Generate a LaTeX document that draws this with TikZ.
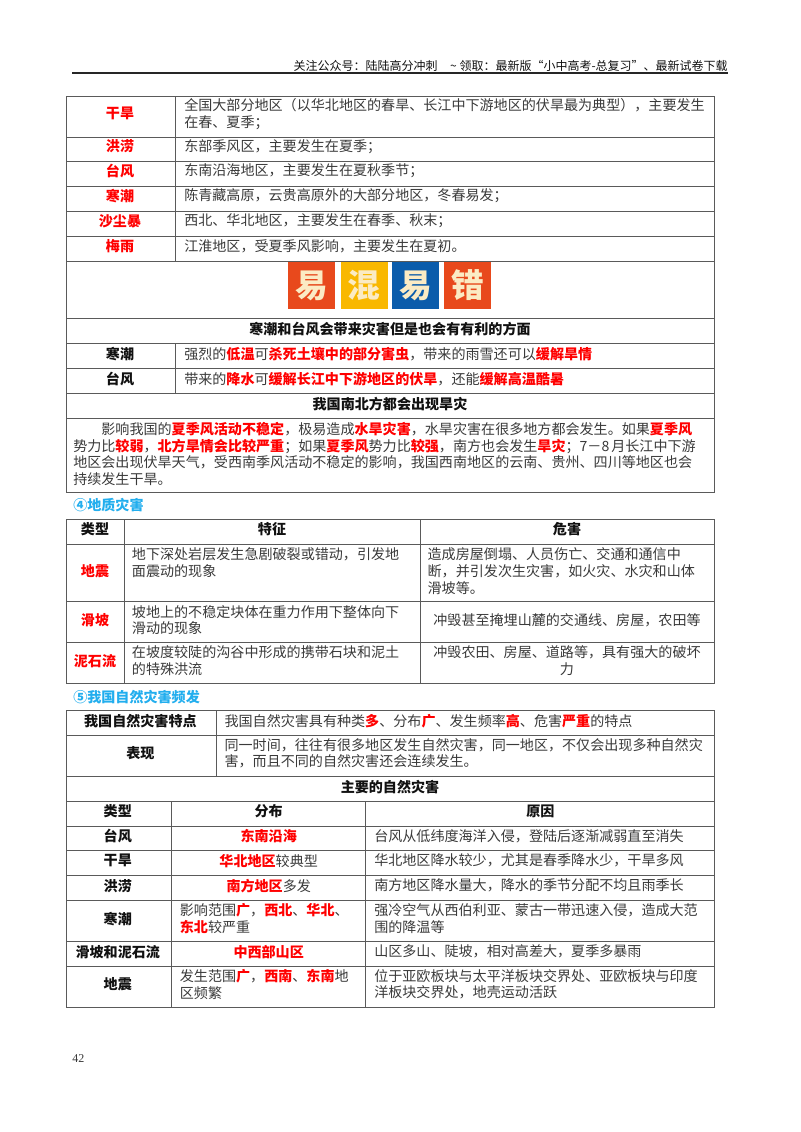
\documentclass[tikz,border=0pt]{standalone}
\usepackage{fontspec}
\setmainfont{Noto Sans CJK SC}
\newfontfamily\latinserif{Liberation Serif}
\definecolor{bodyc}{HTML}{3A3A3A}
\definecolor{linec}{HTML}{5A5A5A}
\definecolor{headc}{HTML}{111111}
\definecolor{redc}{HTML}{FF0000}
\definecolor{secc}{HTML}{22AEEE}
\definecolor{orangec}{HTML}{E8491C}
\definecolor{yellowc}{HTML}{F9B800}
\definecolor{bluec}{HTML}{0B5CAB}
\definecolor{creamc}{HTML}{FBEBC4}
\newcommand{\redb}[1]{\textcolor{redc}{\bfseries #1}}
\tikzset{
  x=0.75pt,y=-0.75pt,
  grid/.style={draw=linec,line width=0.7pt},
  txt/.style={inner sep=0pt,anchor=west,align=left,text=bodyc,font=\fontsize{10.55pt}{12.5pt}\selectfont},
  ctr/.style={txt,anchor=center,align=center},
  hd/.style={ctr,text=headc,font=\fontsize{10.55pt}{12.5pt}\selectfont\bfseries},
  rd/.style={ctr,text=redc,font=\fontsize{10.55pt}{12.5pt}\selectfont\bfseries},
  sec/.style={txt,text=secc,font=\fontsize{10.55pt}{12.5pt}\selectfont\bfseries},
  tile/.style={inner sep=0pt,anchor=center,text=creamc,minimum width=35.25pt,minimum height=35.7pt,font=\fontsize{24.5pt}{26pt}\selectfont\bfseries}
}
\begin{document}
\begin{tikzpicture}
\useasboundingbox (0,0) rectangle (800,1132);
\fill[white] (0,0) rectangle (800,1132);
% header
\node[txt,anchor=east,text=headc,font=\fontsize{9pt}{11pt}\selectfont] (hdr) at (728,65.5) {关注公众号：陆陆高分冲刺\hspace{9.5pt}\textasciitilde\hspace{2pt}领取：最新版“小中高考-总复习”、最新试卷下载};
\draw[black!85,line width=1.5pt] (72,72.7) -- (728,72.7);
% table 1
\draw[grid] (66,96) rectangle (714,492.7);
\foreach \y in {137,161.3,186,211.3,236,261,318.5,343.7,368.5,393.3,418.3} \draw[grid] (66,\y) -- (714,\y);
\draw[grid] (175,96) -- (175,261);
\draw[grid] (175,343.7) -- (175,393.3);
\node[rd] (a1) at (120,113) {干旱};
\node[txt] (a1t) at (184,114) {全国大部分地区（以华北地区的春旱、长江中下游地区的伏旱最为典型），主要发生\\在春、夏季；};
\node[rd] (a2) at (120,146.5) {洪涝};
\node[txt] (a2t) at (184,146.5) {东部季风区，主要发生在夏季；};
\node[rd] (a3) at (120,171) {台风};
\node[txt] (a3t) at (184,171) {东南沿海地区，主要发生在夏秋季节；};
\node[rd] (a4) at (120,196) {寒潮};
\node[txt] (a4t) at (184,196) {陈青藏高原，云贵高原外的大部分地区，冬春易发；};
\node[rd] (a5) at (120,221) {沙尘暴};
\node[txt] (a5t) at (184,221) {西北、华北地区，主要发生在春季、秋末；};
\node[rd] (a6) at (120,246) {梅雨};
\node[txt] (a6t) at (184,246) {江淮地区，受夏季风影响，主要发生在夏初。};
% tiles
\node[tile,fill=orangec] (b1) at (311.8,285.5) {易};
\node[tile,fill=yellowc] (b2) at (364.2,285.5) {混};
\node[tile,fill=bluec] (b3) at (415.8,285.5) {易};
\node[tile,fill=orangec] (b4) at (467.7,285.5) {错};
\node[hd] (c0) at (390,329) {寒潮和台风会带来灾害但是也会有有利的方面};
\node[hd] (c1) at (120,354) {寒潮};
\node[txt] (c1t) at (184,354) {强烈的\redb{低温}可\redb{杀死土壤中的部分害虫}，带来的雨雪还可以\redb{缓解旱情}};
\node[hd] (c2) at (120,379) {台风};
\node[txt] (c2t) at (184,379) {带来的\redb{降水}可\redb{缓解长江中下游地区的伏旱}，还能\redb{缓解高温酷暑}};
\node[hd] (c3) at (390,404) {我国南北方都会出现旱灾};
\node[txt] (c4) at (73,454) {\hspace{21.1pt}影响我国的\redb{夏季风活动不稳定}，极易造成\redb{水旱灾害}，水旱灾害在很多地方都会发生。如果\redb{夏季风}\\势力比\redb{较弱}，\redb{北方旱情会比较严重}；如果\redb{夏季风}势力比\redb{较强}，南方也会发生\redb{旱灾}；7－8\hspace{1.5pt}月长江中下游\\地区会出现伏旱天气，受西南季风活动不稳定的影响，我国西南地区的云南、贵州、四川等地区也会\\持续发生干旱。};
% section 4
\node[sec] (s4) at (73,505.5) {④地质灾害};
\draw[grid] (66,519.3) rectangle (714,683.7);
\foreach \y in {544.3,601.7,642.7} \draw[grid] (66,\y) -- (714,\y);
\draw[grid] (124.3,519.3) -- (124.3,683.7);
\draw[grid] (420,519.3) -- (420,683.7);
\node[hd] (d1) at (95,529.5) {类型};
\node[hd] (d2) at (272,529.5) {特征};
\node[hd] (d3) at (567,529.5) {危害};
\node[rd] (e1) at (95,571) {地震};
\node[txt] (e1a) at (131.7,562.7) {地下深处岩层发生急剧破裂或错动，引发地\\面震动的现象};
\node[txt] (e1b) at (427.4,571) {造成房屋倒塌、人员伤亡、交通和通信中\\断，并引发次生灾害，如火灾、水灾和山体\\滑坡等。};
\node[rd] (e2) at (95,620) {滑坡};
\node[txt] (e2a) at (131.7,620) {坡地上的不稳定块体在重力作用下整体向下\\滑动的现象};
\node[ctr] (e2b) at (567,620) {冲毁甚至掩埋山麓的交通线、房屋，农田等};
\node[rd] (e3) at (95,660.7) {泥石流};
\node[txt] (e3a) at (131.7,660.7) {在坡度较陡的沟谷中形成的携带石块和泥土\\的特殊洪流};
\node[ctr] (e3b) at (567,660.7) {冲毁农田、房屋、道路等，具有强大的破坏\\力};
% section 5
\node[sec] (s5) at (73,696.7) {⑤我国自然灾害频发};
\draw[grid] (66,710.7) rectangle (714,1007.7);
\foreach \y in {735.7,776.3,801.3,826,850.7,875.7,900.7,941.7,966.3} \draw[grid] (66,\y) -- (714,\y);
\draw[grid] (216,710.7) -- (216,776.3);
\draw[grid] (171.3,801.3) -- (171.3,1007.7);
\draw[grid] (365.6,801.3) -- (365.6,1007.7);
\node[hd] (f1) at (140.4,720.7) {我国自然灾害特点};
\node[txt] (f1t) at (224.3,720.7) {我国自然灾害具有种类\redb{多}、分布\redb{广}、发生频率\redb{高}、危害\redb{严重}的特点};
\node[hd] (f2) at (140.4,753.3) {表现};
\node[txt] (f2t) at (224.3,753.3) {同一时间，往往有很多地区发生自然灾害，同一地区，不仅会出现多种自然灾\\害，而且不同的自然灾害还会连续发生。};
\node[hd] (f3) at (390,786.7) {主要的自然灾害};
\node[hd] (g1) at (117.8,811) {类型};
\node[hd] (g2) at (268.7,811) {分布};
\node[hd] (g3) at (540.4,811) {原因};
\node[hd] (h1) at (117.8,836) {台风};
\node[rd] (h1a) at (268.7,836) {东南沿海};
\node[txt] (h1b) at (374,836) {台风从低纬度海洋入侵，登陆后逐渐减弱直至消失};
\node[hd] (h2) at (117.8,860.7) {干旱};
\node[ctr] (h2a) at (268.7,860.7) {\redb{华北地区}较典型};
\node[txt] (h2b) at (374,860.7) {华北地区降水较少，尤其是春季降水少，干旱多风};
\node[hd] (h3) at (117.8,885.7) {洪涝};
\node[ctr] (h3a) at (268.7,885.7) {\redb{南方地区}多发};
\node[txt] (h3b) at (374,885.7) {南方地区降水量大，降水的季节分配不均且雨季长};
\node[hd] (h4) at (117.8,918.7) {寒潮};
\node[txt] (h4a) at (179.6,918.7) {影响范围\redb{广}，\redb{西北}、\redb{华北}、\\\redb{东北}较严重};
\node[txt] (h4b) at (374,918.7) {强冷空气从西伯利亚、蒙古一带迅速入侵，造成大范\\围的降温等};
\node[hd] (h5) at (117.8,951.7) {滑坡和泥石流};
\node[rd] (h5a) at (268.7,951.7) {中西部山区};
\node[txt] (h5b) at (374,951.7) {山区多山、陡坡，相对高差大，夏季多暴雨};
\node[hd] (h6) at (117.8,984.3) {地震};
\node[txt] (h6a) at (179.6,984.3) {发生范围\redb{广}，\redb{西南}、\redb{东南}地\\区频繁};
\node[txt] (h6b) at (374,984.3) {位于亚欧板块与太平洋板块交界处、亚欧板块与印度\\洋板块交界处，地壳运动活跃};
\node[txt,font=\fontsize{9pt}{11pt}\latinserif] (pg) at (72,1059) {42};
\end{tikzpicture}
\end{document}
